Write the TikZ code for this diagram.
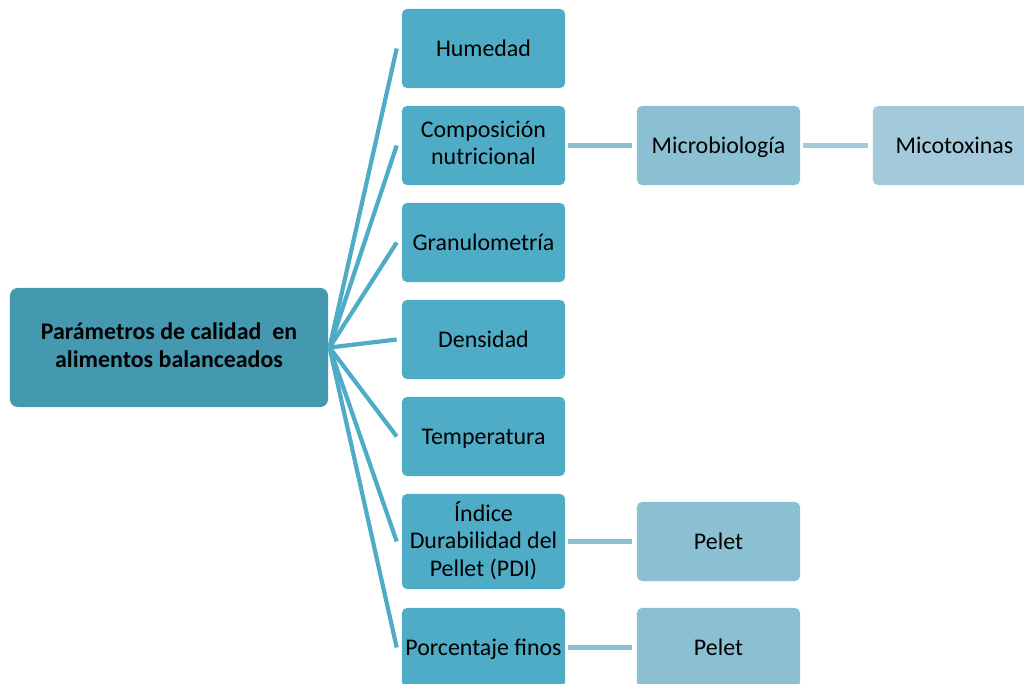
\documentclass[tikz,border=0pt]{standalone}
\usepackage{fontspec}
\setmainfont{Carlito}
\definecolor{raizcol}{HTML}{4499B0}
\definecolor{paramcol}{HTML}{4FACC6}
\definecolor{detcol}{HTML}{8BC0D3}
\definecolor{extcol}{HTML}{A2CADB}
\newcommand{\pilar}{\rule[-3.75pt]{0pt}{19.5pt}}
\begin{document}
\begin{tikzpicture}[x=0.025cm, y=-0.025cm,
    every node/.style={align=center, inner sep=2pt,
                       font=\fontsize{17}{19.5}\selectfont,
                       execute at begin node=\pilar,
                       execute at end node=\pilar},
    raiz/.style={fill=raizcol, rounded corners=5.5pt,
                 minimum width=7.95cm, minimum height=2.975cm,
                 font=\fontsize{17}{20}\selectfont\bfseries},
    param/.style={fill=paramcol, rounded corners=3.5pt,
                  minimum width=4.075cm, minimum height=1.975cm},
    det/.style={fill=detcol, rounded corners=3.5pt,
                minimum width=4.075cm, minimum height=1.975cm},
    ext/.style={det, fill=extcol},
    rama/.style={draw=paramcol, line width=3pt},
    enlace/.style={draw=detcol, line width=3.5pt,
                   shorten <=0.075cm, shorten >=0.125cm}]
  \useasboundingbox (0,0) rectangle (1024,683);
  \clip (0,0) rectangle (1024,683);
  \node[raiz] (raiz) at (169,347.5) {Parámetros de calidad\ \ en\\alimentos balanceados};
  \node[param] (hum)  at (483.5,48.5)  {Humedad};
  \node[param] (comp) at (483.5,145.5) {Composición\\nutricional};
  \node[param] (gran) at (483.5,242.5) {Granulometría};
  \node[param] (dens) at (483.5,339.5) {Densidad};
  \node[param] (temp) at (483.5,436.5) {Temperatura};
  \node[param, minimum height=2.375cm] (pdi) at (483.5,541.5) {Índice\\Durabilidad del\\Pellet (PDI)};
  \node[param] (fino) at (483.5,647.5) {Porcentaje finos};
  \node[det] (micro)  at (718.5,145.5) {Microbiología};
  \node[ext] (mico)   at (954.5,145.5) {Micotoxinas};
  \node[det] (pelA)   at (718.5,541.5) {Pelet};
  \node[det] (pelB)   at (718.5,647.5) {Pelet};
  \foreach \n in {hum,comp,gran,dens,temp,pdi,fino}
    \draw[rama] ([xshift=0.03cm]raiz.east) -- ([xshift=-0.125cm]\n.west);
  \draw[enlace] (comp) -- (micro);
  \draw[enlace, draw=extcol] (micro) -- (mico);
  \draw[enlace] (pdi) -- (pelA);
  \draw[enlace] (fino) -- (pelB);
\end{tikzpicture}
\end{document}
